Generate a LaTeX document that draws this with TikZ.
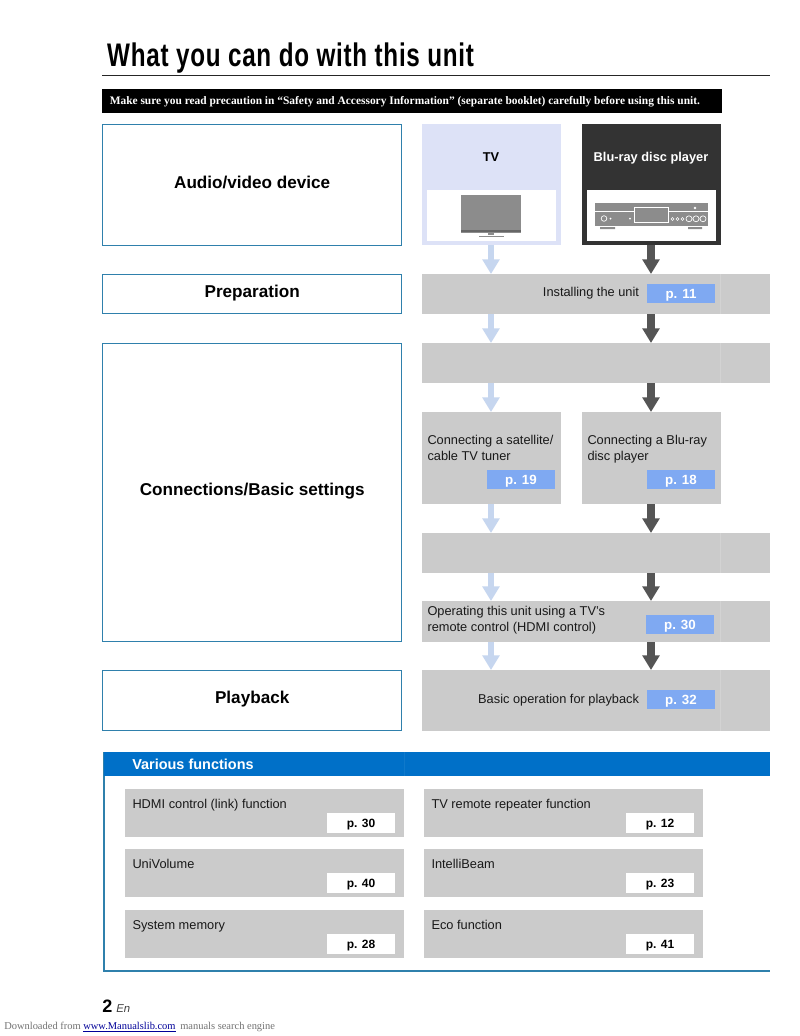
\documentclass[tikz,border=0pt]{standalone}
\usepackage{fontspec}
\setmainfont{Liberation Sans}
\newfontfamily\serifx{Liberation Serif}
\usetikzlibrary{arrows.meta}
\definecolor{frameblue}{HTML}{2F80AC}
\definecolor{graybox}{HTML}{CBCBCB}
\definecolor{graysep}{HTML}{D3D3D3}
\definecolor{tvblue}{HTML}{DDE2F7}
\definecolor{darkbox}{HTML}{333333}
\definecolor{tagblue}{HTML}{7FA9F2}
\definecolor{barblue}{HTML}{0070C8}
\definecolor{lightarrow}{HTML}{C6D6EF}
\definecolor{darkarrow}{HTML}{555555}
\definecolor{icongray}{HTML}{8C8C8C}
\tikzset{
  x=0.75pt,y=-0.75pt,
  stagebox/.style n args={2}{draw=frameblue,line width=1.1pt,fill=white,minimum width=#1*0.75pt,minimum height=#2*0.75pt,inner sep=0pt,outer sep=0pt,anchor=north west,font=\fontsize{12.85}{15}\selectfont\bfseries,text=black,text height=9.4pt,text depth=4.9pt},
  graystrip/.style n args={2}{fill=graybox,minimum width=#1*0.75pt,minimum height=#2*0.75pt,inner sep=0pt,outer sep=0pt,anchor=north west},
  pagetag/.style={fill=tagblue,text=white,minimum width=51pt,minimum height=14.5pt,inner sep=0pt,outer sep=0pt,anchor=north west,font=\fontsize{10}{12}\selectfont\bfseries,text height=9pt,text depth=2pt},
  whitetag/.style={fill=white,text=black,minimum width=51pt,minimum height=15pt,inner sep=0pt,outer sep=0pt,anchor=north west,font=\fontsize{9}{11}\selectfont\bfseries,text height=8.4pt,text depth=2pt},
  bodytext/.style={inner sep=0pt,outer sep=0pt,text=black!90,font=\fontsize{9.6}{11.9}\selectfont,align=left},
  sourcelabel/.style={inner sep=0pt,font=\fontsize{9.6}{11}\selectfont\bfseries,text height=7pt,text depth=2pt},
  flowlight/.style={draw=lightarrow,line width=5.2pt,-{Triangle[length=11pt,width=12.5pt]}},
  flowdark/.style={draw=darkarrow,line width=5.6pt,-{Triangle[length=11pt,width=12.5pt]}},
}
\begin{document}
\begin{tikzpicture}
\useasboundingbox (0,0) rectangle (800,1036);
\fill[white] (0,0) rectangle (800,1036);
% title
\node[inner sep=0pt,anchor=base west,xscale=0.742] (title) at (107,66.5) {\fontsize{24.5}{28}\selectfont\bfseries\addfontfeature{LetterSpace=3}What you can do with this unit};
\coordinate (ruleL) at (102,75.5);
\coordinate (ruleR) at (770,75.5);
\draw[line width=1.4pt,black!85] (ruleL) -- (ruleR);
\node[fill=black,text=white,minimum width=465pt,minimum height=18pt,inner sep=0pt,anchor=north west] (warn) at (102,89) {};
\node[text=white,inner sep=0pt,anchor=base west] (warntext) at (109.5,104.5) {\serifx\fontsize{8.57}{10}\selectfont\bfseries Make sure you read precaution in “Safety and Accessory Information” (separate booklet) carefully before using this unit.};
% left stage boxes
\node[stagebox={299}{121}] (audio) at (102.7,124.7) {Audio/video device};
\node[stagebox={299}{39}] (prep) at (102.7,274.7) {Preparation};
\node[stagebox={299}{298}] (conn) at (102.7,343.7) {Connections/Basic settings};
\node[stagebox={299}{60}] (play) at (102.7,670.7) {Playback};
% sources
\node[fill=tvblue,minimum width=104.25pt,minimum height=91pt,inner sep=0pt,outer sep=0pt,anchor=north west] (tv) at (422,124) {};
\node[fill=white,minimum width=96.75pt,minimum height=38.25pt,inner sep=0pt,anchor=north west] (tvin) at (427,190) {};
\node[sourcelabel] (tvlabel) at (491,158.5) {TV};
\node[fill=darkbox,minimum width=104.25pt,minimum height=91pt,inner sep=0pt,outer sep=0pt,anchor=north west] (bd) at (582,124) {};
\node[fill=white,minimum width=96.75pt,minimum height=38.25pt,inner sep=0pt,anchor=north west] (bdin) at (587,190) {};
\node[sourcelabel,text=white] (bdlabel) at (651,158.5) {Blu-ray disc player};
% tv icon
\fill[icongray] (461,195) rectangle (521,233);
\draw[black!45,line width=0.4pt] (461.5,195.5) rectangle (520.5,228);
\draw[black!60,line width=0.8pt] (461,231) -- (521,231);
\fill[icongray] (488,233) rectangle (494,235);
\draw[black!45,line width=0.6pt] (479,236) -- (504,236);
% player icon
\fill[icongray] (595,203) rectangle (708,225.5);
\draw[white,line width=0.6pt] (595,211.5) -- (708,211.5);
\draw[white,line width=0.6pt,fill=icongray] (634,207.5) rectangle (668,222);
\fill[white] (695,208) circle (1.4);
\draw[white,line width=0.5pt] (604,218.5) circle (2.8);
\fill[white] (610.5,218.5) circle (1) (630,218.5) circle (1);
\draw[white,line width=0.4pt] (672.5,219) circle (1.6) (677.5,219) circle (1.6) (682.5,219) circle (1.6);
\draw[white,line width=0.5pt] (689,218.8) circle (3) (696,218.8) circle (3) (703,218.8) circle (3);
\fill[icongray] (600,227) rectangle (615,229) (688,227) rectangle (702,229);
% gray strips
\node[graystrip={348}{40}] (install) at (422,274) {};
\node[graystrip={348}{40}] (blank1) at (422,343) {};
\node[graystrip={139}{92}] (sat) at (422,412) {};
\node[graystrip={139}{92}] (blu) at (582,412) {};
\node[graystrip={348}{40}] (blank2) at (422,533) {};
\node[graystrip={348}{41}] (hdmi) at (422,601) {};
\node[graystrip={348}{61}] (basic) at (422,670) {};
\foreach \a/\b in {274/314,343/383,533/573,601/642,670/731}
  \draw[graysep,line width=0.4pt] (720.5,\a) -- (720.5,\b);
% texts in strips
\node[bodytext,anchor=base east] (t1) at (639,296.5) {Installing the unit};
\node[pagetag] (p11) at (647,284) {p. 11};
\node[bodytext,anchor=north west] (t2) at (427.5,435.5) {Connecting a satellite/\\cable TV tuner};
\node[pagetag] (p19) at (487,470) {p. 19};
\node[bodytext,anchor=north west] (t3) at (587.5,435.5) {Connecting a Blu-ray\\disc player};
\node[pagetag] (p18) at (647,470) {p. 18};
\node[bodytext,anchor=north west] (t4) at (427.5,606.5) {Operating this unit using a TV’s\\remote control (HDMI control)};
\node[pagetag] (p30) at (646,615) {p. 30};
\node[bodytext,anchor=base east] (t5) at (639,703) {Basic operation for playback};
\node[pagetag] (p32) at (647,690) {p. 32};
% light flow
\draw[flowlight] (tvlabel |- tv.south) -- (tvlabel |- install.north);
\draw[flowlight] (tvlabel |- install.south) -- (tvlabel |- blank1.north);
\draw[flowlight] (tvlabel |- blank1.south) -- (tvlabel |- sat.north);
\draw[flowlight] (tvlabel |- sat.south) -- (tvlabel |- blank2.north);
\draw[flowlight] (tvlabel |- blank2.south) -- (tvlabel |- hdmi.north);
\draw[flowlight] (tvlabel |- hdmi.south) -- (tvlabel |- basic.north);
% dark flow
\draw[flowdark] (bdlabel |- bd.south) -- (bdlabel |- install.north);
\draw[flowdark] (bdlabel |- install.south) -- (bdlabel |- blank1.north);
\draw[flowdark] (bdlabel |- blank1.south) -- (bdlabel |- blu.north);
\draw[flowdark] (bdlabel |- blu.south) -- (bdlabel |- blank2.north);
\draw[flowdark] (bdlabel |- blank2.south) -- (bdlabel |- hdmi.north);
\draw[flowdark] (bdlabel |- hdmi.south) -- (bdlabel |- basic.north);
% various functions
\coordinate (fTop) at (104,752);
\coordinate (fBot) at (104,971);
\coordinate (fEnd) at (770,971);
\draw[frameblue,line width=1.1pt] (fTop) -- (fBot) -- (fEnd);
\node[fill=barblue,minimum width=499.5pt,minimum height=18pt,inner sep=0pt,outer sep=0pt,anchor=north west] (bar) at (104,752) {};
\draw[barblue!94!white,line width=0.4pt] (404,752) -- (404,776);
\node[inner sep=0pt,anchor=base west,text=white,font=\fontsize{10.85}{12}\selectfont\bfseries] (bartext) at (132,769) {Various functions};
\foreach \n/\x/\y/\lab/\pg in {
  a/125/789/{HDMI control (link) function}/{p. 30},
  b/125/849/{UniVolume}/{p. 40},
  c/125/910/{System memory}/{p. 28},
  d/424/789/{TV remote repeater function}/{p. 12},
  e/424/849/{IntelliBeam}/{p. 23},
  f/424/910/{Eco function}/{p. 41}}{
  \node[graystrip={279}{48}] (box\n) at (\x,\y) {};
  \node[bodytext,anchor=base west] (lab\n) at (\x+7.5,\y+19) {\lab};
  \node[whitetag] (tag\n) at (\x+202,\y+24) {\pg};
}
% footer
\node[inner sep=0pt,anchor=base west,font=\fontsize{13.5}{15}\selectfont\bfseries] (pageno) at (102,1012) {2};
\node[inner sep=0pt,anchor=base west,font=\fontsize{8.5}{10}\selectfont\itshape,text=black!75] (en) at (116,1012) {En};
\node[inner sep=0pt,anchor=base west,font=\serifx\fontsize{7.85}{9}\selectfont,text=black!55] (dl) at (4,1029) {Downloaded from};
\node[inner sep=0pt,anchor=base west,font=\serifx\fontsize{7.85}{9}\selectfont,text=blue!60!black] (url) at (83,1029) {\underline{www.Manualslib.com}};
\node[inner sep=0pt,anchor=base west,font=\serifx\fontsize{7.85}{9}\selectfont,text=black!55] (se) at (180,1029) {manuals search engine};
\end{tikzpicture}
\end{document}
